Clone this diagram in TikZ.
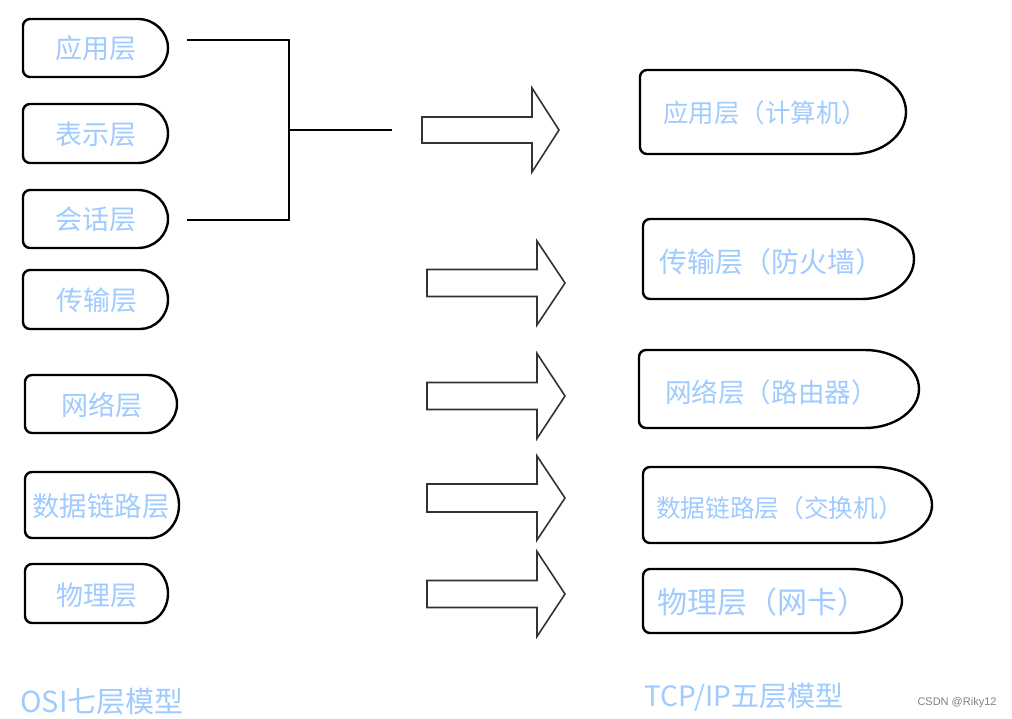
\documentclass[tikz,border=0pt]{standalone}
\usepackage{fontspec}
\newfontfamily\cjk{Noto Sans CJK SC}
\newfontfamily\wmfont{Liberation Sans}
\definecolor{lblue}{HTML}{9FCBFF}
\definecolor{arrowgray}{HTML}{333333}
\tikzset{
  boxline/.style={draw=black, line width=2.4pt, line cap=round, line join=round},
  bracketline/.style={draw=black, line width=2.6pt},
  blockarrow/.style={draw=arrowgray, line width=1.6pt, fill=white, line join=miter},
  lbl/.style={text=lblue, inner sep=0pt, anchor=center},
}
\newcommand\fsz[1]{\cjk\fontsize{#1pt}{#1pt}\selectfont}
% x1, y1, xs (end of straight top), x2 (rightmost), y2
\newcommand\layerbox[5]{%
  \pgfmathsetmacro\lbYm{(#2+#5)/2}%
  \pgfmathsetmacro\lbHh{(#5-#2)/2}%
  \pgfmathsetmacro\lbCw{#3+0.55*(#4-#3)}%
  \draw[boxline] (#3,#5) .. controls (\lbCw,#5) and (#4,\lbYm+0.55*\lbHh) .. (#4,\lbYm)
     .. controls (#4,\lbYm-0.55*\lbHh) and (\lbCw,#2) .. (#3,#2)
     [rounded corners=7pt] -- (#1,#2) -- (#1,#5) -- (#3,#5);%
}
% x0, xh, xt, yc, half body, half head
\newcommand\blockarrowshape[6]{%
  \draw[blockarrow] (#1,#4-#5) -- (#2,#4-#5) -- (#2,#4-#6) -- (#3,#4)
    -- (#2,#4+#6) -- (#2,#4+#5) -- (#1,#4+#5) -- cycle;%
}
\begin{document}
\begin{tikzpicture}[x=1pt,y=-1pt]
\fill[white] (0,0) rectangle (1012,719);
\useasboundingbox (0,0) rectangle (1012,719);

% OSI boxes
\layerbox{23}{19}{138}{168}{77}
\layerbox{23}{104}{138}{168}{163}
\layerbox{23}{190}{138}{168}{248}
\layerbox{23}{270}{140}{168}{329}
\layerbox{25}{375}{147}{177}{433}
\layerbox{25}{472}{150}{179}{538}
\layerbox{25}{564}{143}{168}{623}
\node[lbl, font=\fsz{27}] (l1) at (96,48) {应用层};
\node[lbl, font=\fsz{27}] (l2) at (96,134) {表示层};
\node[lbl, font=\fsz{27}] (l3) at (96,219) {会话层};
\node[lbl, font=\fsz{27}] (l4) at (97,300) {传输层};
\node[lbl, font=\fsz{27}] (l5) at (102,405) {网络层};
\node[lbl, font=\fsz{27.4}] (l6) at (101,506) {数据链路层};
\node[lbl, font=\fsz{27}] (l7) at (97,595) {物理层};

% bracket
\coordinate (b1) at (187,40);
\coordinate (b3) at (187,220);
\coordinate (bm) at (289,130);
\coordinate (be) at (392,130);
\draw[bracketline] (b1) -- (289,40) -- (289,220) -- (b3);
\draw[bracketline] (bm) -- (be);

% block arrows
\blockarrowshape{422}{532}{559}{130}{13}{42}
\blockarrowshape{427}{537}{565}{283}{13.5}{42}
\blockarrowshape{427}{537}{565}{396}{13.5}{42.5}
\blockarrowshape{427}{537}{565}{498}{14}{42}
\blockarrowshape{427}{537}{565}{594}{13.5}{42.5}

% TCP/IP boxes
\layerbox{640}{70}{853}{906}{154}
\layerbox{643}{219}{862}{914}{299}
\layerbox{639}{350}{865}{919}{428}
\layerbox{643}{467}{875}{932}{543}
\layerbox{643}{569}{850}{902}{633}
\node[lbl, font=\fsz{25.5}] (r1) at (765,113) {应用层（计算机）};
\node[lbl, font=\fsz{28}] (r2) at (771,262) {传输层（防火墙）};
\node[lbl, font=\fsz{26.6}] (r3) at (771.5,392) {网络层（路由器）};
\node[lbl, font=\fsz{24.7}] (r4) at (779.5,508) {数据链路层（交换机）};
\node[lbl, font=\fsz{30}] (r5) at (762.5,602) {物理层（网卡）};

% captions
\node[lbl, font=\fsz{29}] (osi) at (102,702) {OSI七层模型};
\node[lbl, font=\fsz{28}] (tcp) at (744,697) {TCP/IP五层模型};
\node[text=gray, inner sep=0pt, font=\wmfont\fontsize{11pt}{11pt}\selectfont] (wm) at (957,703) {CSDN @Riky12};
\end{tikzpicture}
\end{document}
